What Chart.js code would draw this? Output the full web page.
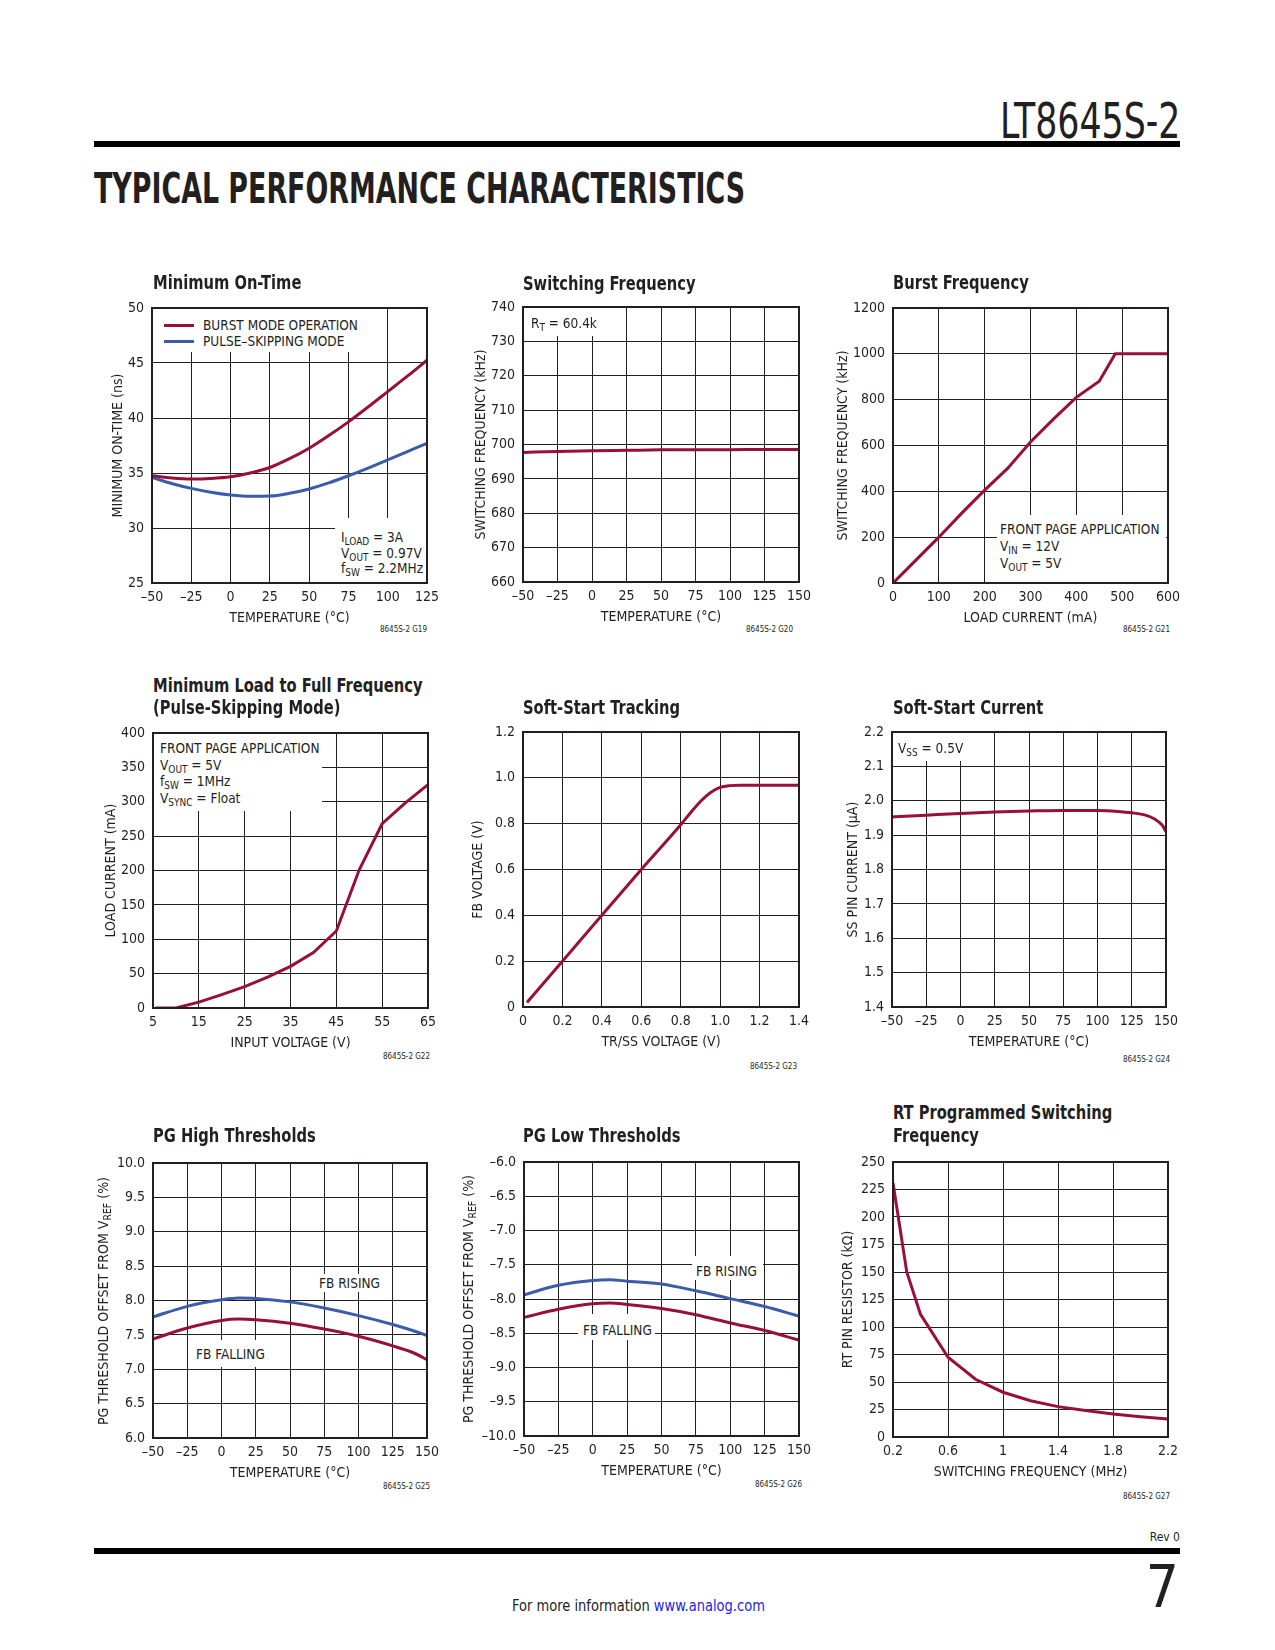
<!DOCTYPE html>
<html>
<head>
<meta charset="utf-8">
<script src="https://cdn.jsdelivr.net/npm/chart.js@4.4.1/dist/chart.umd.min.js"></script>
<style>
body { margin: 0; background: #fff; }
#page { position: relative; width: 1275px; height: 1650px; overflow: hidden; background: #fff;
  font-family: "Liberation Sans Narrow", "Arial Narrow", "DejaVu Sans Condensed", sans-serif; color: #231f20; }
#page canvas, .t, .box, .sw, .rule { position: absolute; }
.t { white-space: nowrap; }
.t sub { font-size: 0.74em; vertical-align: -0.28em; line-height: 0; }
.box { background: #fff; }
.rule { background: #000; left: 94px; width: 1086px; height: 6px; }
</style>
</head>
<body>
<div id="page">
  <div class="rule" style="top:141px"></div>
  <div class="rule" style="top:1548px"></div>
  <canvas id="g19"></canvas>
  <canvas id="g20"></canvas>
  <canvas id="g21"></canvas>
  <canvas id="g22"></canvas>
  <canvas id="g23"></canvas>
  <canvas id="g24"></canvas>
  <canvas id="g25"></canvas>
  <canvas id="g26"></canvas>
  <canvas id="g27"></canvas>
</div>
<script>
var FONT = '"Liberation Sans Narrow", "Arial Narrow", "DejaVu Sans Condensed", sans-serif';
var INK = "#231f20";
var RED = "#98103a";
var BLUE = "#3b5bab";

// G19 minimum on-time
var g19Temp = [-50, -37.5, -25, -12.5, 0, 12.5, 25, 37.5, 50, 62.5, 75, 87.5, 100, 112.5, 125];
var g19Burst = [34.75, 34.55, 34.45, 34.5, 34.65, 35.0, 35.5, 36.3, 37.25, 38.4, 39.65, 41.0, 42.4, 43.8, 45.25];
var g19Pulse = [34.6, 34.05, 33.6, 33.25, 33.0, 32.88, 32.9, 33.15, 33.55, 34.1, 34.75, 35.45, 36.2, 36.95, 37.7];
var g19XLabels = ["–50", "–25", "0", "25", "50", "75", "100", "125"];
var g19YLabels = ["25", "30", "35", "40", "45", "50"];

// G20 switching frequency
var g20Temp = [-50, -25, 0, 25, 50, 75, 100, 125, 150];
var g20Freq = [697.7, 697.95, 698.15, 698.3, 698.45, 698.5, 698.5, 698.55, 698.55];
var tempLabels = ["–50", "–25", "0", "25", "50", "75", "100", "125", "150"];
var g20YLabels = ["660", "670", "680", "690", "700", "710", "720", "730", "740"];

// G21 burst frequency
var g21Load = [0, 50, 100, 150, 200, 250, 300, 350, 400, 450, 485, 600];
var g21Freq = [0, 100, 200, 305, 405, 500, 615, 715, 810, 880, 1000, 1000];
var g21XLabels = ["0", "100", "200", "300", "400", "500", "600"];
var g21YLabels = ["0", "200", "400", "600", "800", "1000", "1200"];

// G22 minimum load to full frequency
var g22Vin = [5.5, 10, 15, 20, 25, 30, 35, 40, 45, 50, 55, 60, 65];
var g22Load = [0, 0, 8.5, 19.5, 31, 45, 60.5, 80.5, 112, 201, 268, 298, 325];
var g22XLabels = ["5", "15", "25", "35", "45", "55", "65"];
var g22YLabels = ["0", "50", "100", "150", "200", "250", "300", "350", "400"];

// G23 soft-start tracking
var g23Tr = [0.02, 0.2, 0.4, 0.6, 0.8, 0.85, 0.9, 0.95, 1.0, 1.05, 1.1, 1.2, 1.4];
var g23Fb = [0.02, 0.2, 0.4, 0.6, 0.795, 0.848, 0.897, 0.935, 0.958, 0.966, 0.968, 0.968, 0.968];
var g23XLabels = ["0", "0.2", "0.4", "0.6", "0.8", "1.0", "1.2", "1.4"];
var g23YLabels = ["0", "0.2", "0.4", "0.6", "0.8", "1.0", "1.2"];

// G24 soft-start current
var g24Temp = [-50, -25, 0, 25, 50, 75, 100, 115, 125, 135, 142, 147, 150];
var g24Iss = [1.953, 1.958, 1.963, 1.967, 1.970, 1.972, 1.972, 1.969, 1.965, 1.958, 1.946, 1.93, 1.91];
var g24YLabels = ["1.4", "1.5", "1.6", "1.7", "1.8", "1.9", "2.0", "2.1", "2.2"];

// G25 PG high thresholds
var g25Temp = [-50, -25, 0, 12.5, 25, 50, 75, 100, 125, 140, 150];
var g25Rising = [7.76, 7.915, 8.01, 8.036, 8.03, 7.98, 7.89, 7.78, 7.65, 7.56, 7.49];
var g25Falling = [7.44, 7.6, 7.71, 7.73, 7.72, 7.67, 7.585, 7.48, 7.34, 7.24, 7.14];
var g25YLabels = ["6.0", "6.5", "7.0", "7.5", "8.0", "8.5", "9.0", "9.5", "10.0"];

// G26 PG low thresholds
var g26Temp = [-50, -25, 0, 12.5, 25, 50, 75, 100, 125, 150];
var g26Rising = [-7.94, -7.8, -7.73, -7.72, -7.74, -7.78, -7.88, -7.995, -8.11, -8.25];
var g26Falling = [-8.27, -8.15, -8.07, -8.06, -8.08, -8.14, -8.23, -8.35, -8.46, -8.6];
var g26YLabels = ["–10.0", "–9.5", "–9.0", "–8.5", "–8.0", "–7.5", "–7.0", "–6.5", "–6.0"];

// G27 RT programmed switching frequency
var g27Fsw = [0.2, 0.3, 0.4, 0.6, 0.8, 1.0, 1.2, 1.4, 1.6, 1.8, 2.0, 2.2];
var g27Rt = [231, 150, 111.5, 72.5, 52.5, 40.7, 33, 27.6, 24, 21, 18.5, 16.4];
var g27XLabels = ["0.2", "0.6", "1", "1.4", "1.8", "2.2"];
var g27YLabels = ["0", "25", "50", "75", "100", "125", "150", "175", "200", "225", "250"];

var page = document.getElementById("page");

function num(s) { return parseFloat(s.replace("–", "-")); }

function series(xs, ys, color, smooth) {
    return {
        data: xs.map(function (x, i) { return { x: x, y: ys[i] }; }),
        borderColor: color,
        borderWidth: 3,
        pointRadius: 0,
        fill: false,
        tension: 0,
        cubicInterpolationMode: smooth ? "monotone" : "default",
    };
}

// heavier outline round the plot
var frame = {
    id: "frame",
    afterDraw: function (c) {
        var a = c.chartArea, ctx = c.ctx;
        ctx.save();
        ctx.strokeStyle = INK;
        ctx.lineWidth = 2;
        ctx.strokeRect(a.left, a.top, a.right - a.left, a.bottom - a.top);
        ctx.restore();
    },
};

function scaleOpts(labels, title, isX, size) {
    var vals = labels.map(num);
    return {
        type: "linear",
        min: vals[0],
        max: vals[vals.length - 1],
        afterBuildTicks: function (s) { s.ticks = vals.map(function (v) { return { value: v }; }); },
        afterFit: function (s) { if (isX) s.height = size; else s.width = size; },
        grid: { color: INK, lineWidth: 1, drawTicks: false },
        border: { display: false },
        ticks: {
            autoSkip: false, maxRotation: 0, padding: isX ? 6 : 8, color: INK,
            font: { family: FONT, size: 14 },
            callback: function (v, i) { return labels[i]; },
        },
        title: { display: !!title, text: title, color: INK, padding: 0, font: { family: FONT, size: 14, lineHeight: 1 } },
    };
}

// rect = plot area [left, top, width, height] on the page
function makeChart(id, rect, xLabels, yLabels, xTitle, yTitle, yGap, datasets) {
    var padTop = 22, padRight = 26, wy = yGap + 7, hx = 42;
    var cv = document.getElementById(id);
    cv.width = wy + rect[2] + padRight;
    cv.height = padTop + rect[3] + hx;
    cv.style.left = (rect[0] - wy) + "px";
    cv.style.top = (rect[1] - padTop) + "px";
    return new Chart(cv.getContext("2d"), {
        type: "line",
        data: { datasets: datasets },
        options: {
            responsive: false,
            animation: false,
            events: [],
            layout: { padding: { top: padTop, right: padRight, left: 0, bottom: 0 } },
            plugins: { legend: { display: false }, tooltip: { enabled: false } },
            scales: {
                x: scaleOpts(xLabels, xTitle, true, hx),
                y: scaleOpts(yLabels, yTitle, false, wy),
            },
        },
        plugins: [frame],
    });
}

makeChart("g19", [152, 308, 275, 275], g19XLabels, g19YLabels, "TEMPERATURE (°C)", "MINIMUM ON-TIME (ns)", 34,
    [series(g19Temp, g19Burst, RED, true), series(g19Temp, g19Pulse, BLUE, true)]);
makeChart("g20", [523, 307, 276, 275], tempLabels, g20YLabels, "TEMPERATURE (°C)", "SWITCHING FREQUENCY (kHz)", 42,
    [series(g20Temp, g20Freq, RED, true)]);
makeChart("g21", [893, 308, 275, 275], g21XLabels, g21YLabels, "LOAD CURRENT (mA)", "SWITCHING FREQUENCY (kHz)", 50,
    [series(g21Load, g21Freq, RED, false)]);
makeChart("g22", [153, 733, 275, 275], g22XLabels, g22YLabels, "INPUT VOLTAGE (V)", "LOAD CURRENT (mA)", 42,
    [series(g22Vin, g22Load, RED, false)]);
makeChart("g23", [523, 732, 276, 275], g23XLabels, g23YLabels, "TR/SS VOLTAGE (V)", "FB VOLTAGE (V)", 45,
    [series(g23Tr, g23Fb, RED, true)]);
makeChart("g24", [892, 732, 274, 275], tempLabels, g24YLabels, "TEMPERATURE (°C)", "SS PIN CURRENT (µA)", 39,
    [series(g24Temp, g24Iss, RED, true)]);
makeChart("g25", [153, 1163, 274, 275], tempLabels, g25YLabels, "TEMPERATURE (°C)", "", 50,
    [series(g25Temp, g25Rising, BLUE, true), series(g25Temp, g25Falling, RED, true)]);
makeChart("g26", [524, 1162, 275, 274], tempLabels, g26YLabels, "TEMPERATURE (°C)", "", 56,
    [series(g26Temp, g26Rising, BLUE, true), series(g26Temp, g26Falling, RED, true)]);
makeChart("g27", [893, 1162, 275, 275], g27XLabels, g27YLabels, "SWITCHING FREQUENCY (MHz)", "RT PIN RESISTOR (kΩ)", 45,
    [series(g27Fsw, g27Rt, RED, false)]);

// page text
function txt(html, x, cy, size, lh, weight, align) {
    var d = document.createElement("div");
    d.className = "t";
    d.innerHTML = html;
    d.style.fontSize = size + "px";
    d.style.lineHeight = lh + "px";
    d.style.top = (cy - lh / 2) + "px";
    if (weight) d.style.fontWeight = weight;
    if (align === "right") {
        d.style.left = (x - 500) + "px";
        d.style.width = "500px";
        d.style.textAlign = "right";
    } else {
        d.style.left = x + "px";
    }
    page.appendChild(d);
    return d;
}
function title(html, x, cy) {
    var d = txt(html, x, cy, 19, 22, "bold");
    d.style.transformOrigin = "left center";
    d.style.transform = "scaleX(0.86)";
}
function note(html, x, cy) { return txt(html, x, cy, 13.5, 16); }
function box(l, t, r, b) {
    var d = document.createElement("div");
    d.className = "box";
    d.style.left = l + "px"; d.style.top = t + "px";
    d.style.width = (r - l) + "px"; d.style.height = (b - t) + "px";
    page.appendChild(d);
}
function swatch(l, cy, w, color) {
    var d = document.createElement("div");
    d.className = "sw";
    d.style.left = l + "px"; d.style.top = (cy - 1.5) + "px";
    d.style.width = w + "px"; d.style.height = "3px";
    d.style.background = color;
    page.appendChild(d);
}
function vtitle(html, cx, cy) {
    var d = txt(html, cx - 160, cy, 14, 16);
    d.style.width = "320px";
    d.style.textAlign = "center";
    d.style.transform = "rotate(-90deg)";
}
function fit(el, w, origin) {
    el.style.transformOrigin = origin;
    el.style.transform = "scaleX(" + (w / el.offsetWidth) + ")";
}

var part = txt("LT8645S-2", 1180, 121, 50, 50, "normal", "right");
part.style.width = "auto"; part.style.left = "auto"; part.style.right = "95px";
fit(part, 181, "right center");
var head = txt("TYPICAL PERFORMANCE CHARACTERISTICS", 94, 188.5, 42, 42, "bold");
fit(head, 651, "left center");

// titles
title("Minimum On-Time", 153, 282);
title("Switching Frequency", 523, 283);
title("Burst Frequency", 893, 282);
title("Minimum Load to Full Frequency", 153, 685);
title("(Pulse-Skipping Mode)", 153, 707);
title("Soft-Start Tracking", 523, 707);
title("Soft-Start Current", 893, 707);
title("PG High Thresholds", 153, 1135);
title("PG Low Thresholds", 523, 1135);
title("RT Programmed Switching", 893, 1112);
title("Frequency", 893, 1135);

// G19 legend and conditions
box(154, 309, 358, 352);
swatch(164, 325, 30, RED);
swatch(164, 341, 30, BLUE);
note("BURST MODE OPERATION", 203, 325);
note("PULSE–SKIPPING MODE", 203, 341);
box(335, 518, 426, 582);
note("I<sub>LOAD</sub> = 3A", 341, 537);
note("V<sub>OUT</sub> = 0.97V", 341, 553);
note("f<sub>SW</sub> = 2.2MHz", 341, 568);

// G20
box(524, 308, 595, 336);
note("R<sub>T</sub> = 60.4k", 531, 323);

// G21
box(997, 515, 1166, 582);
note("FRONT PAGE APPLICATION", 1000, 529);
note("V<sub>IN</sub> = 12V", 1000, 546);
note("V<sub>OUT</sub> = 5V", 1000, 563);

// G22
box(154, 734, 322, 811);
note("FRONT PAGE APPLICATION", 160, 748);
note("V<sub>OUT</sub> = 5V", 160, 765);
note("f<sub>SW</sub> = 1MHz", 160, 781);
note("V<sub>SYNC</sub> = Float", 160, 798);

// G24
box(893, 733, 963, 761);
note("V<sub>SS</sub> = 0.5V", 898, 748);

// G25
box(314, 1274, 384, 1292);
note("FB RISING", 319, 1283);
box(190, 1340, 270, 1367);
note("FB FALLING", 196, 1354);
vtitle("PG THRESHOLD OFFSET FROM V<sub>REF</sub> (%)", 103, 1301);

// G26
box(692, 1256, 763, 1280);
note("FB RISING", 696, 1271);
box(578, 1314, 655, 1340);
note("FB FALLING", 583, 1330);
vtitle("PG THRESHOLD OFFSET FROM V<sub>REF</sub> (%)", 468, 1299);

// figure codes
txt("8645S-2 G19", 427, 630, 8, 10, null, "right");
txt("8645S-2 G20", 793, 630, 8, 10, null, "right");
txt("8645S-2 G21", 1170, 630, 8, 10, null, "right");
txt("8645S-2 G22", 430, 1057, 8, 10, null, "right");
txt("8645S-2 G23", 797, 1067, 8, 10, null, "right");
txt("8645S-2 G24", 1170, 1060, 8, 10, null, "right");
txt("8645S-2 G25", 430, 1487, 8, 10, null, "right");
txt("8645S-2 G26", 802, 1485, 8, 10, null, "right");
txt("8645S-2 G27", 1170, 1497, 8, 10, null, "right");

// footer
txt("Rev 0", 1180, 1537, 12, 14, null, "right");
txt("7", 1179, 1587, 58, 58, null, "right");
var more = txt('For more information <span style="color:#2323e6">www.analog.com</span>', 512, 1606, 16, 18);
fit(more, 253, "left center");
</script>
</body>
</html>
